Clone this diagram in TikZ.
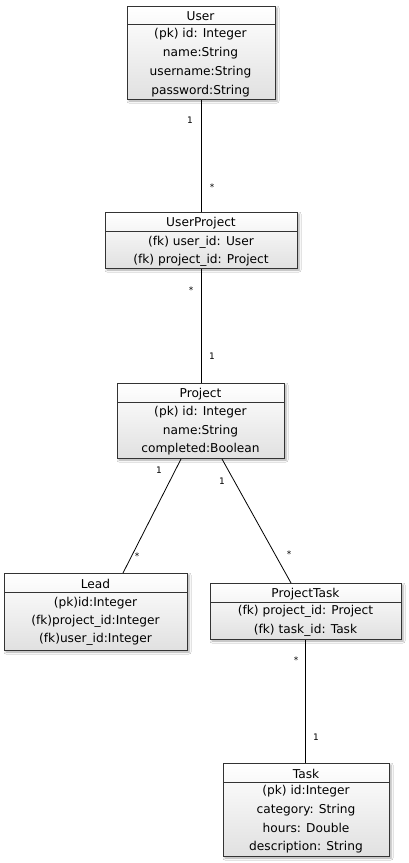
\documentclass[tikz,border=0pt]{standalone}
\usepackage{fontspec}
\setmainfont{DejaVu Sans}
\usetikzlibrary{shadows.blur}
\tikzset{
  x=1pt,y=-1pt,
  entity/.style={draw=black!80, line width=1pt, rectangle, anchor=north west,
    top color=white, bottom color=black!12, inner sep=0pt,
    blur shadow={shadow xshift=1.5pt, shadow yshift=-1.5pt, shadow blur radius=2pt, shadow opacity=35}},
  divider/.style={draw=black!80, line width=1pt},
  attr/.style={inner sep=0pt, yshift=-1.5pt, font=\fontsize{12.2}{14}\selectfont},
  mult/.style={inner sep=0pt, font=\fontsize{9}{10}\selectfont},
  link/.style={draw=black, line width=0.8pt},
}
\begin{document}
\begin{tikzpicture}
\useasboundingbox[fill=white] (0,0) rectangle (408,863);

% User
\node[entity, minimum width=148, minimum height=93] (user) at (127,6) {};
\draw[divider] (user.west |- 0,24) -- (user.east |- 0,24);
\node[attr] (userT) at (200.5,15) {User};
\node[attr] (userA) at (200.5,32.5) {(pk) id: Integer};
\node[attr] (userB) at (200.5,51.5) {name:String};
\node[attr] (userC) at (200.5,70.5) {username:String};
\node[attr] (userD) at (200.5,89.5) {password:String};

% UserProject
\node[entity, minimum width=192, minimum height=56] (up) at (105,212) {};
\draw[divider] (up.west |- 0,231) -- (up.east |- 0,231);
\node[attr] (upT) at (201,221.5) {UserProject};
\node[attr] (upA) at (201,240.5) {(fk) user\_id: User};
\node[attr] (upB) at (201,258.5) {(fk) project\_id: Project};

% Project
\node[entity, minimum width=167, minimum height=75] (project) at (117,383) {};
\draw[divider] (project.west |- 0,402) -- (project.east |- 0,402);
\node[attr] (projectT) at (200.5,392.5) {Project};
\node[attr] (projectA) at (200.5,410.5) {(pk) id: Integer};
\node[attr] (projectB) at (200.5,429.5) {name:String};
\node[attr] (projectC) at (200.5,447.5) {completed:Boolean};

% Lead
\node[entity, minimum width=183, minimum height=77] (lead) at (4,573) {};
\draw[divider] (lead.west |- 0,592) -- (lead.east |- 0,592);
\node[attr] (leadT) at (95.5,582.5) {Lead};
\node[attr] (leadA) at (95.5,601.5) {(pk)id:Integer};
\node[attr] (leadB) at (95.5,619.5) {(fk)project\_id:Integer};
\node[attr] (leadC) at (95.5,637.5) {(fk)user\_id:Integer};

% ProjectTask
\node[entity, minimum width=191, minimum height=56] (pt) at (210,583) {};
\draw[divider] (pt.west |- 0,602) -- (pt.east |- 0,602);
\node[attr] (ptT) at (305.5,592.5) {ProjectTask};
\node[attr] (ptA) at (305.5,609.5) {(fk) project\_id: Project};
\node[attr] (ptB) at (305.5,628.5) {(fk) task\_id: Task};

% Task
\node[entity, minimum width=166, minimum height=93] (task) at (223,763) {};
\draw[divider] (task.west |- 0,782) -- (task.east |- 0,782);
\node[attr] (taskT) at (306,772.5) {Task};
\node[attr] (taskA) at (306,789.5) {(pk) id:Integer};
\node[attr] (taskB) at (306,808.5) {category: String};
\node[attr] (taskC) at (306,826.5) {hours: Double};
\node[attr] (taskD) at (306,845.5) {description: String};

% connectors
\draw[link] ([xshift=74pt]user.south west) -- ([xshift=96pt]up.north west);
\draw[link] ([xshift=96pt]up.south west) -- ([xshift=84pt]project.north west);
\draw[link] ([xshift=64pt]project.south west) -- ([xshift=119pt]lead.north west);
\draw[link] ([xshift=105pt]project.south west) -- ([xshift=81pt]pt.north west);
\draw[link] ([xshift=95pt]pt.south west) -- ([xshift=82pt]task.north west);

% multiplicities
\node[mult] (m1) at (190,120) {1};
\node[mult] (m2) at (212,187) {*};
\node[mult] (m3) at (191,290) {*};
\node[mult] (m4) at (212,356) {1};
\node[mult] (m5) at (159,470) {1};
\node[mult] (m6) at (137,556) {*};
\node[mult] (m7) at (222,481) {1};
\node[mult] (m8) at (289,554) {*};
\node[mult] (m9) at (296,660) {*};
\node[mult] (m10) at (316,737) {1};
\end{tikzpicture}
\end{document}
